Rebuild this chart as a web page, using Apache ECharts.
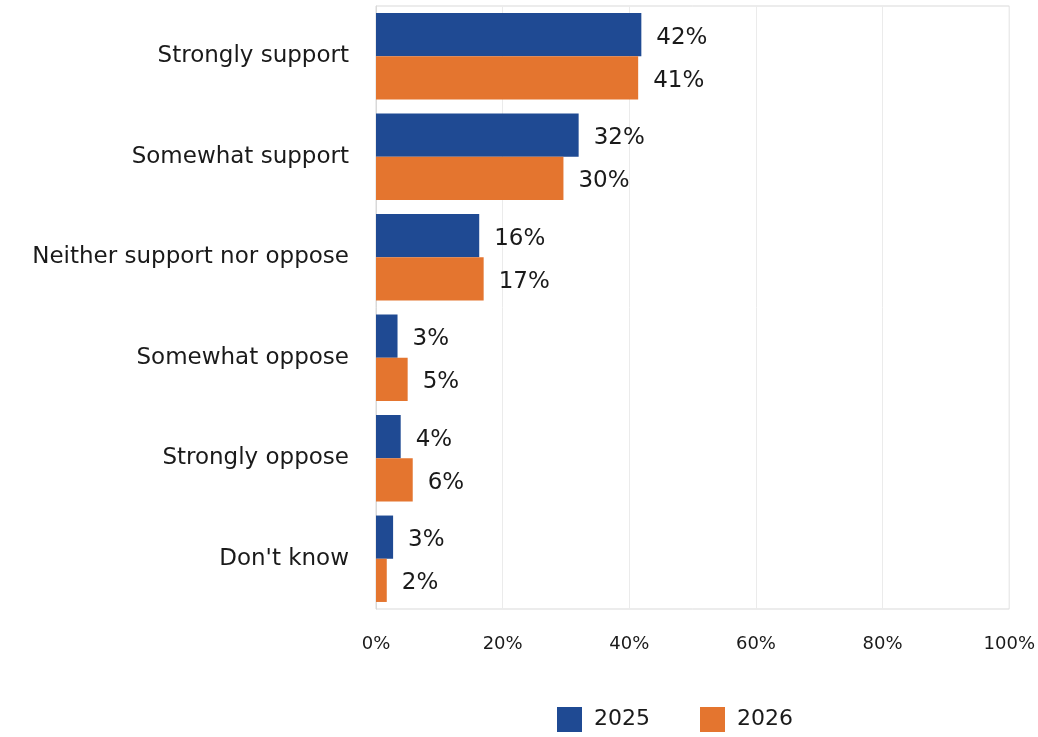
<!DOCTYPE html>
<html>
<head>
<meta charset="utf-8">
<script src="https://cdn.jsdelivr.net/npm/echarts@6/dist/echarts.min.js"></script>
<style>
html,body{margin:0;padding:0;background:#fff;}
#c{width:1038px;height:737px;}
</style>
</head>
<body>
<div id="c"></div>
<script>
const categories = ["Strongly support", "Somewhat support", "Neither support nor oppose", "Somewhat oppose", "Strongly oppose", "Don't know"];
const seriesNames = ["2025", "2026"];
const values2025 = [41.9, 32.0, 16.3, 3.4, 3.9, 2.7];
const values2026 = [41.4, 29.6, 17.0, 5.0, 5.8, 1.7];
const xTicks = [0, 20, 40, 60, 80, 100];

const FONT = "'DejaVu Sans', sans-serif";
const chart = echarts.init(document.getElementById('c'), null, {renderer: 'canvas'});
const labelCfg = {
  show: true, position: 'right', distance: 15, offset: [0, 3],
  color: '#1a1a1a', fontSize: 23, fontFamily: FONT,
  formatter: p => Math.round(p.value) + '%'
};
chart.setOption({
  animation: false,
  backgroundColor: '#ffffff',
  grid: {left: 376, right: 26, top: 6, bottom: 128, show: true, borderColor: '#d9d9d9', borderWidth: 1},
  legend: {
    data: seriesNames, top: 702, left: 552,
    itemWidth: 25, itemHeight: 25, itemGap: 50, icon: 'rect',
    textStyle: {fontSize: 22, color: '#1a1a1a', fontFamily: FONT, padding: [0, 0, 0, 7]}
  },
  xAxis: {
    type: 'value', min: 0, max: 100, interval: 20,
    axisLabel: {formatter: v => xTicks.includes(v) ? v + '%' : '', fontSize: 18, color: '#1a1a1a', fontFamily: FONT, margin: 26},
    splitLine: {show: true, lineStyle: {color: '#ebebeb', width: 1}},
    axisLine: {show: false}, axisTick: {show: false}
  },
  yAxis: {
    type: 'category', data: categories, inverse: true,
    axisLabel: {fontSize: 23, color: '#1a1a1a', fontFamily: FONT, margin: 27},
    axisLine: {show: true, lineStyle: {color: '#d9d9d9'}}, axisTick: {show: false}
  },
  series: [
    {name: seriesNames[0], type: 'bar', data: values2025, barGap: '0%', barCategoryGap: '14%',
     itemStyle: {color: '#1f4a93'}, label: labelCfg},
    {name: seriesNames[1], type: 'bar', data: values2026, barGap: '0%', barCategoryGap: '14%',
     itemStyle: {color: '#e4752f'}, label: labelCfg}
  ]
});
</script>
</body>
</html>
